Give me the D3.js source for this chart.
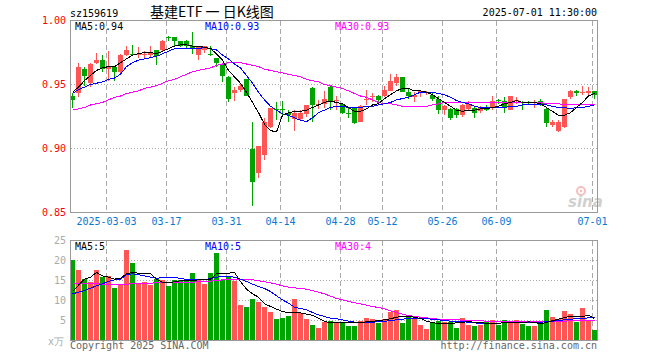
<!DOCTYPE html>
<html>
<head>
<meta charset="utf-8">
<script src="https://cdnjs.cloudflare.com/ajax/libs/d3/7.8.5/d3.min.js"></script>
<style>
  body { margin: 0; background: #fff; }
  text { font-family: "DejaVu Sans Mono", monospace; font-size: 10px; }
</style>
</head>
<body>
<div id="chart"></div>
<script>
// trading days, 2025-02-21 .. 2025-07-01
var dates = ["02-21","02-24","02-25","02-26","02-27","02-28",
  "03-03","03-04","03-05","03-06","03-07","03-10","03-11","03-12","03-13","03-14",
  "03-17","03-18","03-19","03-20","03-21","03-24","03-25","03-26","03-27","03-28","03-31",
  "04-01","04-02","04-03","04-07","04-08","04-09","04-10","04-11","04-14","04-15","04-16","04-17","04-18",
  "04-21","04-22","04-23","04-24","04-25","04-28","04-29","04-30",
  "05-06","05-07","05-08","05-09","05-12","05-13","05-14","05-15","05-16","05-19","05-20","05-21","05-22","05-23",
  "05-26","05-27","05-28","05-29","05-30",
  "06-03","06-04","06-05","06-06","06-09","06-10","06-11","06-12","06-13","06-16","06-17","06-18","06-19","06-20",
  "06-23","06-24","06-25","06-26","06-27","06-30","07-01"];

var open = [.941,.943,.962,.951,.967,.969,.962,.964,.960,.973,
  .974,.973,.9735,.973,.977,.977,.987,.987,.984,.984,
  .980,.973,.977,.974,.971,.966,.956,.943,.946,.954,
  .900,.881,.895,.917,.931,.931,.928,.923,.923,.927,
  .947,.9345,.935,.948,.9372,.935,.9278,.932,.921,.9385,
  .940,.941,.941,.945,.951,.956,.944,.940,.943,.9438,
  .942,.939,.930,.931,.931,.926,.931,.932,.929,.9312,
  .932,.9376,.9375,.930,.9373,.9363,.9363,.9358,.9375,.931,
  .918,.914,.917,.940,.945,.9438,.943,.945];
var high = [.943,.967,.964,.967,.975,.973,.976,.964,.974,.980,
  .981,.979,.9765,.980,.977,.985,.988,.9875,.984,.985,
  .991,.980,.980,.980,.971,.967,.957,.948,.951,.954,
  .921,.902,.924,.932,.936,.937,.930,.930,.930,.934,
  .948,.938,.945,.949,.941,.935,.9315,.932,.934,.946,
  .943,.942,.949,.958,.958,.956,.947,.944,.946,.945,
  .943,.941,.934,.932,.932,.935,.9375,.933,.933,.934,
  .941,.939,.940,.941,.940,.9375,.9375,.938,.939,.932,
  .922,.922,.939,.946,.946,.949,.948,.945];
var low = [.932,.940,.949,.948,.966,.960,.953,.953,.958,.972,
  .972,.971,.970,.971,.965,.976,.984,.980,.979,.978,
  .974,.969,.975,.972,.964,.952,.936,.9375,.944,.941,
  .855,.877,.891,.916,.922,.926,.921,.914,.922,.925,
  .921,.931,.932,.930,.930,.927,.924,.919,.921,.934,
  .936,.935,.940,.945,.949,.944,.939,.936,.940,.942,
  .9375,.927,.9265,.922,.924,.925,.930,.924,.928,.929,
  .930,.935,.928,.930,.935,.930,.934,.932,.933,.917,
  .917,.913,.916,.939,.941,.942,.941,.939];
var close = [.938,.964,.957,.966,.969,.962,.964,.960,.973,.977,
  .9735,.974,.974,.975,.972,.984,.9865,.984,.980,.980,
  .978,.979,.980,.9735,.967,.957,.939,.946,.949,.941,
  .874,.902,.921,.9315,.930,.930,.926,.928,.9275,.934,
  .934,.935,.939,.937,.9378,.928,.9275,.920,.933,.939,
  .941,.938,.946,.953,.956,.944,.941,.942,.945,.9442,
  .939,.930,.933,.924,.926,.934,.935,.928,.932,.9308,
  .9375,.9372,.932,.941,.9377,.9360,.9358,.9363,.934,.920,
  .921,.921,.939,.945,.943,.9442,.945,.942];

var ma5 = [.944,.948,.953,.957,.961,.963,.964,.964,.967,.970,
  .973,.974,.975,.975,.974,.976,.978,.980,.981,.981,
  .980,.980,.979,.978,.974,.969,.961,.956,.951,.944,
  .936,.928,.919,.914,.913,.926,.928,.929,.929,.930,
  .932,.934,.936,.937,.936,.935,.932,.929,.929,.931,
  .934,.935,.939,.942,.945,.947,.947,.945,.945,.944,
  .942,.939,.936,.933,.930,.929,.930,.930,.931,.931,
  .932,.933,.935,.936,.9375,.936,.936,.936,.935,.932,
  .929,.926,.926,.928,.932,.936,.941,.943];
var ma10 = [.943,.946,.948,.950,.951,.952,.954,.955,.958,.964,
  .967,.969,.970,.971,.972,.974,.976,.978,.978,.978,
  .978,.978,.979,.978,.977,.973,.970,.966,.963,.957,
  .951,.944,.938,.933,.930,.927,.926,.924,.922,.921,
  .924,.928,.930,.932,.933,.933,.932,.932,.932,.933,
  .933,.934,.935,.936,.938,.939,.940,.942,.944,.944,
  .944,.943,.942,.940,.9375,.936,.935,.933,.932,.932,
  .932,.932,.932,.933,.933,.934,.934,.934,.934,.934,
  .933,.932,.932,.931,.932,.932,.933,.934];
var ma30 = [.930,.931,.932,.934,.935,.936,.938,.940,.941,.943,
  .944,.945,.947,.948,.949,.951,.953,.954,.956,.958,
  .960,.961,.962,.963,.965,.966,.967,.967,.967,.966,
  .965,.964,.962,.961,.960,.959,.958,.957,.956,.954,
  .953,.952,.950,.949,.948,.947,.945,.943,.941,.940,
  .938,.936,.935,.935,.934,.933,.933,.933,.933,.933,
  .934,.935,.936,.936,.936,.936,.936,.936,.936,.936,
  .936,.936,.936,.936,.936,.936,.936,.936,.936,.935,
  .935,.935,.934,.934,.934,.934,.934,.934];

// volume, x万
var vol = [20.2,17.7,15.3,14.7,17.7,16.0,16.2,13.25,13.9,22.7,
  19.5,14.5,14.75,13.9,15.3,15.2,13.7,15.2,15.2,15.0,
  17.0,15.2,14.2,17.0,22.0,15.2,15.8,15.0,8.9,8.5,
  10.4,9.75,8.5,7.25,5.4,5.75,6.25,10.4,6.8,5.5,
  3.9,3.25,4.75,5.0,4.3,4.3,3.7,3.7,5.0,5.7,
  5.4,4.5,5.4,7.25,7.7,4.5,6.25,5.4,3.9,2.9,
  4.5,5.0,4.75,4.75,3.2,5.7,3.9,3.7,3.9,5.0,
  5.2,3.9,5.2,4.75,5.2,4.2,3.7,3.7,4.75,7.7,
  5.8,5.3,7.4,6.7,4.75,8.2,5.2,2.7];
var volMa5 = [12.25,13.83,15.33,15.83,17.0,16.17,15.83,15.33,15.58,16.67,
  17.0,16.83,16.83,16.67,15.33,14.5,14.5,14.67,14.92,14.92,
  15.0,15.17,15.17,15.33,16.67,16.83,16.83,17.0,14.75,12.83,
  11.67,10.83,9.17,8.5,7.83,7.25,6.9,6.9,6.9,6.6,
  6.3,5.6,4.8,4.4,4.42,4.5,4.5,4.42,4.5,4.67,
  4.75,5.0,5.17,5.42,5.83,6.0,6.0,5.83,5.5,4.83,
  4.5,4.17,4.17,4.17,4.42,4.58,4.67,4.58,4.42,4.33,
  4.33,4.33,4.42,4.5,4.5,4.5,4.67,4.5,4.17,4.5,
  5.0,5.33,5.75,6.08,6.08,6.0,6.33,5.5];
var volMa10 = [11.67,12.08,12.5,13.08,13.67,14.17,14.75,15.17,15.33,16.42,
  16.67,16.42,16.17,15.83,15.58,15.67,15.83,15.75,15.5,15.25,
  15.17,15.17,15.17,15.5,15.83,16.0,16.0,15.83,15.33,14.75,
  14.08,13.5,13.0,12.25,11.17,10.17,9.33,8.33,8.0,7.67,
  7.0,6.42,6.0,5.58,5.42,5.17,4.83,4.58,4.5,4.5,
  4.58,4.67,4.83,4.92,5.17,5.33,5.5,5.58,5.58,5.42,
  5.33,5.17,5.0,4.83,4.75,4.67,4.58,4.42,4.25,4.33,
  4.33,4.33,4.42,4.5,4.5,4.5,4.5,4.5,4.58,4.67,
  4.83,5.0,5.17,5.33,5.42,5.5,5.67,5.83];
var volMa30 = [14.33,14.33,14.25,14.17,14.17,14.08,14.0,13.92,14.0,14.08,
  14.17,14.17,14.25,14.33,14.42,14.5,14.5,14.5,14.5,14.58,
  14.58,14.67,14.75,14.83,15.0,15.17,15.25,15.33,15.33,15.33,
  15.17,14.92,14.67,14.42,14.08,13.67,13.33,13.17,13.0,12.83,
  12.5,12.08,11.67,11.08,10.5,10.17,9.75,9.42,9.17,8.83,
  8.5,8.25,7.92,7.42,7.0,6.58,6.25,6.0,5.83,5.67,
  5.5,5.33,5.25,5.17,5.17,5.08,5.0,5.0,4.92,4.83,
  4.75,4.75,4.75,4.67,4.67,4.67,4.67,4.67,4.67,4.67,
  4.75,4.83,4.83,4.92,4.92,5.0,5.0,5.0];

var tickDates = ["03-03","03-17","03-31","04-14","04-28","05-12","05-26","06-09","07-01"];
var tickLabels = ["2025-03-03","03-17","03-31","04-14","04-28","05-12","05-26","06-09","07-01"];
var priceTicks = [1.00, 0.95, 0.90, 0.85];
var volTicks = [25, 20, 15, 10, 5];
var priceLegend = ["MA5:0.94", "MA10:0.93", "MA30:0.93"];
var volLegend = ["MA5:5", "MA10:5", "MA30:4"];
var maColors = ["#000000", "#0000ff", "#ff00ff"];

var UP = "#ff5555", DOWN = "#00a400", GRID = "#aaaaaa", FRAME = "#999999";

var svg = d3.select("#chart").append("svg")
  .attr("width", 660)
  .attr("height", 360);

var x = d3.scaleBand().domain(dates).range([70, 597]).paddingInner(1 / 6).paddingOuter(0);
var y = d3.scaleLinear().domain([0.85, 1.00]).range([212.5, 20.5]);
var yv = d3.scaleLinear().domain([0, 25]).range([340.5, 240.5]);

function mid(i) { return x(dates[i]) + 2.5; }

// header
svg.append("text").attr("x", 70).attr("y", 17).text("sz159619");
svg.append("text").attr("x", 150).attr("y", 17)
  .style("font-family", "'Noto Sans CJK SC', sans-serif").style("font-size", "14px")
  .style("white-space", "pre")
  .text("基建ETF 一 日K线图");
svg.append("text").attr("x", 597).attr("y", 16).attr("text-anchor", "end").text("2025-07-01 11:30:00");

function panel(top, bottom, hTicks, yScale) {
  var g = svg.append("g").attr("shape-rendering", "crispEdges");
  g.selectAll(".hgrid").data(hTicks).enter().append("line")
    .attr("x1", 70.5).attr("x2", 597.5)
    .attr("y1", function(d) { return yScale(d); })
    .attr("y2", function(d) { return yScale(d); })
    .attr("stroke", GRID).attr("stroke-dasharray", "1,2");
  g.selectAll(".vgrid").data(tickDates).enter().append("line")
    .attr("x1", function(d) { return x(d) + 0.5; })
    .attr("x2", function(d) { return x(d) + 0.5; })
    .attr("y1", top).attr("y2", bottom)
    .attr("stroke", GRID).attr("stroke-dasharray", "5,3");
  return g;
}

panel(20.5, 212.5, [0.95, 0.90], y);
panel(240.5, 340.5, [20, 15, 10, 5], yv);

// candles
var candles = svg.append("g").attr("shape-rendering", "crispEdges");
candles.selectAll(".wick").data(dates).enter().append("line")
  .attr("x1", function(d, i) { return mid(i); })
  .attr("x2", function(d, i) { return mid(i); })
  .attr("y1", function(d, i) { return y(high[i]); })
  .attr("y2", function(d, i) { return y(low[i]); })
  .attr("stroke", function(d, i) { return close[i] >= open[i] ? UP : DOWN; });
candles.selectAll(".body").data(dates).enter().append("rect")
  .attr("x", function(d) { return x(d); })
  .attr("width", x.bandwidth())
  .attr("y", function(d, i) { return y(Math.max(open[i], close[i])); })
  .attr("height", function(d, i) { return Math.max(1, y(Math.min(open[i], close[i])) - y(Math.max(open[i], close[i]))); })
  .attr("fill", function(d, i) { return close[i] >= open[i] ? UP : DOWN; });

// volume bars
svg.append("g").attr("shape-rendering", "crispEdges")
  .selectAll("rect").data(vol).enter().append("rect")
  .attr("x", function(d, i) { return x(dates[i]); })
  .attr("width", x.bandwidth())
  .attr("y", function(d) { return yv(d); })
  .attr("height", function(d) { return yv(0) - yv(d); })
  .attr("fill", function(d, i) { return close[i] >= open[i] ? UP : DOWN; });

// moving averages
function maLine(series, scale, color) {
  var line = d3.line()
    .x(function(d, i) { return mid(i); })
    .y(function(d) { return scale(d); });
  svg.append("path").datum(series)
    .attr("d", line)
    .attr("fill", "none")
    .attr("stroke", color)
    .attr("stroke-width", 1)
    .attr("shape-rendering", "crispEdges");
}
[ma30, ma10, ma5].forEach(function(s, k) { maLine(s, y, maColors[2 - k]); });
[volMa30, volMa10, volMa5].forEach(function(s, k) { maLine(s, yv, maColors[2 - k]); });

// frames
svg.append("rect").attr("x", 70.5).attr("y", 20.5).attr("width", 527).attr("height", 192)
  .attr("fill", "none").attr("stroke", FRAME).attr("shape-rendering", "crispEdges");
svg.append("rect").attr("x", 70.5).attr("y", 240.5).attr("width", 527).attr("height", 100)
  .attr("fill", "none").attr("stroke", FRAME).attr("shape-rendering", "crispEdges");

// sina watermark
var logo = svg.append("g").attr("opacity", 0.45);
logo.append("circle").attr("cx", 581).attr("cy", 191).attr("r", 4)
  .attr("fill", "none").attr("stroke", "#f07070").attr("stroke-width", 2);
logo.append("circle").attr("cx", 581).attr("cy", 191).attr("r", 1.3).attr("fill", "#f07070");
logo.append("text").attr("x", 568).attr("y", 207)
  .style("font-family", "'DejaVu Sans', sans-serif").style("font-size", "15px")
  .style("font-style", "italic").style("font-weight", "bold")
  .attr("fill", "#999").text("sina");

// axis labels
svg.selectAll(".plab").data(priceTicks).enter().append("text")
  .attr("x", 66).attr("y", function(d) { return y(d) + 3.5; })
  .attr("text-anchor", "end").attr("fill", "#ff0000")
  .text(function(d) { return d3.format(".2f")(d); });
svg.selectAll(".vlab").data(volTicks).enter().append("text")
  .attr("x", 66).attr("y", function(d) { return yv(d) + 3.5; })
  .attr("text-anchor", "end").attr("fill", "#aaaaaa")
  .text(function(d) { return d; });
svg.append("text").attr("x", 64).attr("y", 345).attr("text-anchor", "end")
  .attr("fill", "#aaaaaa").text("x万");
svg.selectAll(".xlab").data(tickDates).enter().append("text")
  .attr("x", function(d) { return x(d) + 0.5; })
  .attr("y", 225)
  .attr("text-anchor", "middle").attr("fill", "#0a78d2")
  .text(function(d, i) { return tickLabels[i]; });

// legends
var legendX = [75, 205, 335];
svg.selectAll(".pleg").data(priceLegend).enter().append("text")
  .attr("x", function(d, i) { return legendX[i]; }).attr("y", 30)
  .attr("fill", function(d, i) { return maColors[i]; })
  .text(function(d) { return d; });
svg.selectAll(".vleg").data(volLegend).enter().append("text")
  .attr("x", function(d, i) { return legendX[i]; }).attr("y", 250)
  .attr("fill", function(d, i) { return maColors[i]; })
  .text(function(d) { return d; });

// footer
svg.append("text").attr("x", 70).attr("y", 349).attr("fill", "#666").text("Copyright 2025 SINA.COM");
svg.append("text").attr("x", 597).attr("y", 349).attr("text-anchor", "end").attr("fill", "#666")
  .text("http://finance.sina.com.cn");
</script>
</body>
</html>
